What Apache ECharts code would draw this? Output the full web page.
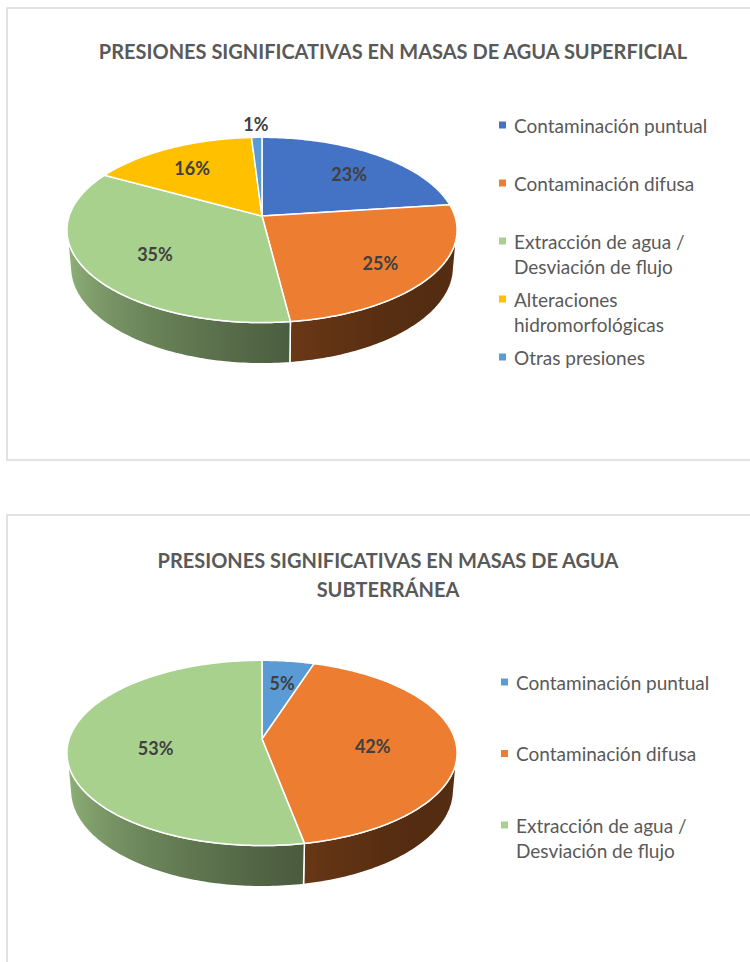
<!DOCTYPE html>
<html><head><meta charset="utf-8">
<script src="https://cdn.jsdelivr.net/npm/echarts@6/dist/echarts.min.js"></script>
<style>html,body{margin:0;padding:0;background:#fff}#main{width:750px;height:962px}</style>
</head><body><div id="main"></div>
<script>
// ---- data ----
const titleSup = 'PRESIONES SIGNIFICATIVAS EN MASAS DE AGUA SUPERFICIAL';
const titleSub = 'PRESIONES SIGNIFICATIVAS EN MASAS DE AGUA\nSUBTERRÁNEA';
const catsSup = ['Contaminación puntual', 'Contaminación difusa', 'Extracción de agua / Desviación de flujo', 'Alteraciones hidromorfológicas', 'Otras presiones'];
const valsSup = [23, 25, 35, 16, 1];
const colorsSup = ['#4472C4', '#ED7D31', '#A9D18E', '#FFC000', '#5B9BD5'];
const catsSub = ['Contaminación puntual', 'Contaminación difusa', 'Extracción de agua / Desviación de flujo'];
const valsSub = [5, 42, 53];
const colorsSub = ['#5B9BD5', '#ED7D31', '#A9D18E'];

// ---- 3D projection (perspective, Excel-like 3D pie) ----
const ELEV = 28 * Math.PI / 180, SE = Math.sin(ELEV), CE = Math.cos(ELEV);
const DIST = 5.87, FOC = 1132, HGT = 0.221;
const Z_SIL = 1 / (DIST * CE); // silhouette (tangent) depth on rim
const TH_A = Math.acos(-Z_SIL), TH_B = 2 * Math.PI - TH_A;

function proj(cx, cy, x, y, z) {
  const d = DIST - y * SE - z * CE;
  return [cx + FOC * x / d, cy + FOC * (z * SE - y * CE) / d];
}
function rim(cx, cy, t, y) { return proj(cx, cy, Math.sin(t), y, -Math.cos(t)); }
function shade(hex, b) {
  const n = parseInt(hex.slice(1), 16);
  const r = Math.round(((n >> 16) & 255) * b), g = Math.round(((n >> 8) & 255) * b), bl = Math.round((n & 255) * b);
  return 'rgb(' + r + ',' + g + ',' + bl + ')';
}
function bright(t) { return 0.659 - 0.25 * Math.sin(t) + 0.179 * Math.cos(t); }

function buildData(vals) {
  const out = []; let c = 0;
  vals.forEach((v, i) => { out.push([c, c + v, v, i]); c += v; });
  return out;
}
const sum = a => a.reduce((s, v) => s + v, 0);

function topRenderer(cx, cy, colors, total) {
  return function (params, api) {
    const a0 = api.value(0) / total * 2 * Math.PI, a1 = api.value(1) / total * 2 * Math.PI;
    const v = api.value(2), idx = api.value(3);
    const pts = [proj(cx, cy, 0, 0, 0)];
    const n = Math.max(2, Math.ceil((a1 - a0) / (Math.PI / 180)));
    for (let k = 0; k <= n; k++) pts.push(rim(cx, cy, a0 + (a1 - a0) * k / n, 0));
    const p = v / total;
    const r = p < 0.03 ? 1.2 : Math.max(0.55, Math.min(0.74, 0.95 - 0.9 * p));
    const tm = (a0 + a1) / 2;
    const lp = proj(cx, cy, r * Math.sin(tm), 0, -r * Math.cos(tm));
    const dy = p < 0.03 ? 0 : 4;
    return {
      type: 'group',
      children: [
        { type: 'polygon', shape: { points: pts }, style: { fill: colors[idx], stroke: '#ffffff', lineWidth: 1.5, lineJoin: 'round' } },
        { type: 'text', x: lp[0], y: lp[1] + dy, style: { text: Math.round(p * 100) + '%', fontFamily: 'Lato', fontWeight: 'bold', fontSize: 18, fill: '#404040', align: 'center', verticalAlign: 'middle' } }
      ]
    };
  };
}

function wallRenderer(cx, cy, colors, total) {
  return function (params, api) {
    const a0 = api.value(0) / total * 2 * Math.PI, a1 = api.value(1) / total * 2 * Math.PI;
    const idx = api.value(3);
    const s = Math.max(a0, TH_A), e = Math.min(a1, TH_B);
    if (e <= s) return { type: 'group', children: [] };
    const n = Math.max(2, Math.ceil((e - s) / (Math.PI / 180)));
    const top = [], bot = [];
    for (let k = 0; k <= n; k++) {
      const t = s + (e - s) * k / n;
      top.push(rim(cx, cy, t, 0));
      bot.push(rim(cx, cy, t, -HGT));
    }
    const pts = top.concat(bot.reverse());
    const xs = top.map(q => q[0]);
    const xmin = Math.min.apply(null, xs), xmax = Math.max.apply(null, xs);
    const stops = [];
    for (let k = 0; k <= 12; k++) {
      const t = s + (e - s) * k / 12;
      const X = rim(cx, cy, t, 0)[0];
      stops.push({ offset: xmax > xmin ? (X - xmin) / (xmax - xmin) : 0, color: shade(colors[idx], bright(t)) });
    }
    stops.sort((a, b) => a.offset - b.offset);
    return {
      type: 'polygon', shape: { points: pts },
      style: { fill: { type: 'linear', x: xmin, y: 0, x2: xmax, y2: 0, global: true, colorStops: stops }, stroke: '#ffffff', lineWidth: 1.5, lineJoin: 'round' }
    };
  };
}

function legendGraphics(cats, colors, x, y0, step) {
  const g = [];
  cats.forEach((c, i) => {
    const y = y0 + i * step;
    g.push({ type: 'rect', shape: { x: x, y: y - 3.5, width: 7, height: 7 }, style: { fill: colors[i] } });
    g.push({ type: 'text', x: x + 15, y: y - 12.5, style: { text: c, width: 205, overflow: 'break', fontFamily: 'Lato', fontSize: 19, fill: '#595959', lineHeight: 25, verticalAlign: 'top', align: 'left' } });
  });
  return g;
}

const CX = 262, CY1 = 216, CY2 = 739;
const totSup = sum(valsSup), totSub = sum(valsSub);

const chart = echarts.init(document.getElementById('main'), null, { renderer: 'svg', width: 750, height: 962 });
chart.setOption({
  animation: false,
  backgroundColor: '#ffffff',
  title: [
    { text: titleSup, left: 388, top: 31, textAlign: 'center', textStyle: { fontFamily: 'Lato', fontWeight: 'bold', fontSize: 20, color: '#595959', lineHeight: 29 } },
    { text: titleSub, left: 383, top: 540, textAlign: 'center', textStyle: { fontFamily: 'Lato', fontWeight: 'bold', fontSize: 20, color: '#595959', lineHeight: 29 } }
  ],
  graphic: [
    { type: 'rect', shape: { x: 7, y: 8, width: 800, height: 452 }, style: { fill: 'none', stroke: '#d9d9d9', lineWidth: 1.5 }, z: 0 },
    { type: 'rect', shape: { x: 7, y: 515, width: 800, height: 600 }, style: { fill: 'none', stroke: '#d9d9d9', lineWidth: 1.5 }, z: 0 }
  ].concat(legendGraphics(catsSup, colorsSup, 499, 125, 58)).concat(legendGraphics(catsSub, colorsSub, 501, 682, 71.5)),
  series: [
    { type: 'custom', coordinateSystem: 'none', silent: true, renderItem: wallRenderer(CX, CY1, colorsSup, totSup), data: buildData(valsSup), z: 2 },
    { type: 'custom', coordinateSystem: 'none', silent: true, renderItem: topRenderer(CX, CY1, colorsSup, totSup), data: buildData(valsSup), z: 3 },
    { type: 'custom', coordinateSystem: 'none', silent: true, renderItem: wallRenderer(CX, CY2, colorsSub, totSub), data: buildData(valsSub), z: 2 },
    { type: 'custom', coordinateSystem: 'none', silent: true, renderItem: topRenderer(CX, CY2, colorsSub, totSub), data: buildData(valsSub), z: 3 }
  ]
});
</script>
</body></html>
